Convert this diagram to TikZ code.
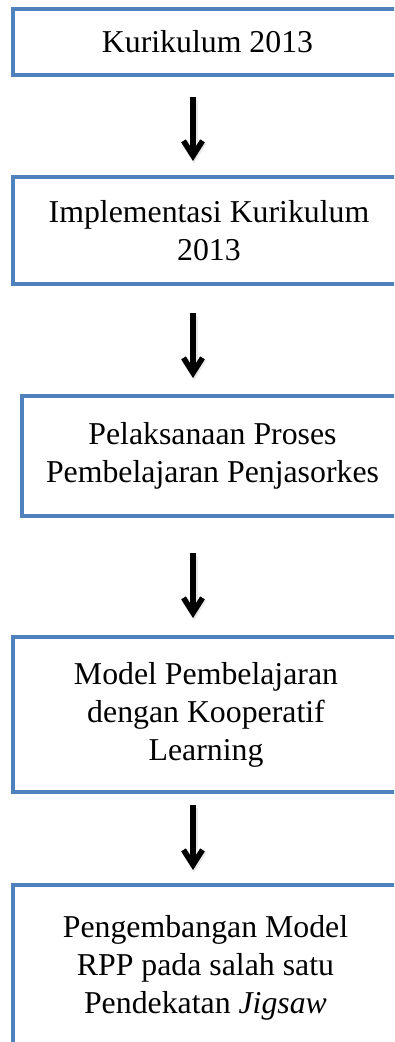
\documentclass[tikz,border=0pt]{standalone}
\usepackage{fontspec}
\setmainfont{Liberation Serif}
\usetikzlibrary{arrows.meta}
\definecolor{boxblue}{RGB}{79,129,189}
\tikzset{
  stepbox/.style={draw=boxblue, line width=4pt, fill=white, inner sep=0pt,
    align=center, font=\fontsize{31.8}{38}\selectfont},
  flowarrow/.style={line width=5.5pt, black,
    -{Straight Barb[length=15pt,width=19pt,line cap=butt,line join=miter]}},
  arrowshade/.style={flowarrow, black!9, line width=7pt, transform canvas={shift={(1pt,-2.5pt)}}},
}
\begin{document}
\begin{tikzpicture}[x=1pt,y=-1pt]
  \useasboundingbox (0,0) rectangle (394,1042);
  \clip (0,0) rectangle (394,1042);

  % flow steps
  \node[stepbox, minimum width=389pt, minimum height=66pt] (b1) at (207.5,42)
    {Kurikulum 2013};
  \node[stepbox, minimum width=392pt, minimum height=107pt] (b2) at (209,230.5)
    {Implementasi Kurikulum\\2013};
  \node[stepbox, minimum width=381pt, minimum height=120pt] (b3) at (212.5,456)
    {Pelaksanaan Proses\\Pembelajaran Penjasorkes};
  \node[stepbox, minimum width=386pt, minimum height=155pt] (b4) at (206,714.5)
    {Model Pembelajaran\\dengan Kooperatif\\Learning};
  \node[stepbox, minimum width=385pt, minimum height=166pt] (b5) at (205.5,968)
    {Pengembangan Model\\RPP pada salah satu\\Pendekatan \textit{Jigsaw}};

  % arrows between the steps, each with a faint shade below it
  \coordinate (ax) at (193,0);
  \foreach \s in {arrowshade, flowarrow} {
    \draw[\s, shorten <=20pt, shorten >=14pt] (b1.south -| ax) -- (b2.north -| ax);
    \draw[\s, shorten <=27pt, shorten >=16pt] (b2.south -| ax) -- (b3.north -| ax);
    \draw[\s, shorten <=35pt, shorten >=17pt] (b3.south -| ax) -- (b4.north -| ax);
    \draw[\s, shorten <=11pt, shorten >=13pt] (b4.south -| ax) -- (b5.north -| ax);
  }
\end{tikzpicture}
\end{document}
